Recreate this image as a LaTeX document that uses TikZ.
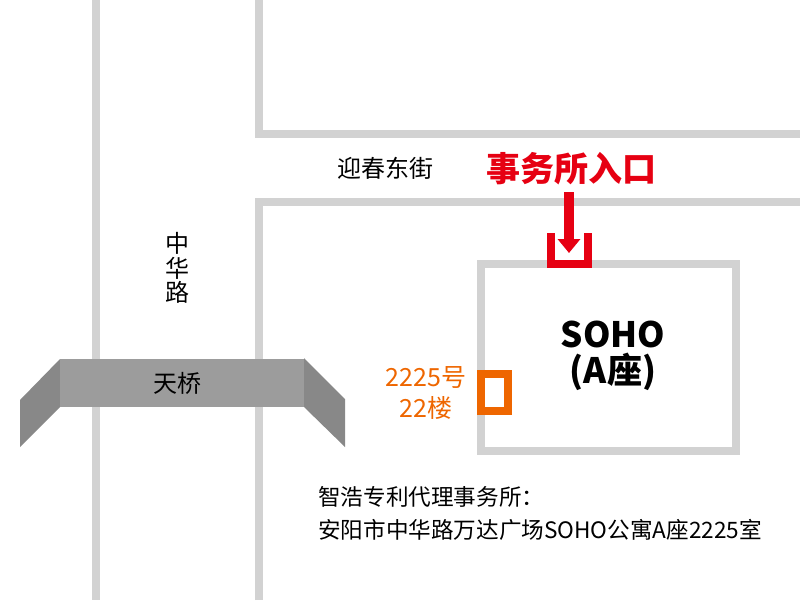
\documentclass[tikz,border=0pt]{standalone}
\usepackage{fontspec}
\setmainfont{Noto Sans CJK SC}
\usepackage{tikz}
\usetikzlibrary{arrows.meta, positioning}
\definecolor{roadGray}{HTML}{D2D2D2}
\definecolor{bridgeGray}{HTML}{9C9C9C}
\definecolor{wingGray}{HTML}{888888}
\definecolor{entryRed}{HTML}{E60012}
\definecolor{roomOrange}{HTML}{EE6600}
\tikzset{
  road/.style={draw=roadGray, line width=8pt},
  wing/.style={fill=wingGray, draw=none},
  label/.style={font=\fontsize{24}{28}\selectfont, align=center, text=black, inner sep=0pt},
}

\begin{document}
\begin{tikzpicture}[x=1pt, y=-1pt]
       \useasboundingbox (0,0) rectangle (800,600);
       % 道路
       \draw[road] (96,0) -- (96,600);
       \draw[road] (259,0) -- (259,134) -- (800,134);
       \draw[road] (259,600) -- (259,202) -- (800,202);
       
       % 大楼
       \draw[road] (481,264) rectangle (736,451);
       
       % 天桥
       \fill[wing] (60,359) -- (20,400) -- (20,447) -- (60,407) -- cycle;
       \fill[wing] (304,358) -- (345,399) -- (345,447) -- (304,407) -- cycle;
       \fill[bridgeGray] (60,359) rectangle (304,407);
       
       % 入口
       \draw[entryRed, line width=8pt] (551,233) -- (551,264) -- (588,264) -- (588,233);
       \coordinate (arrowStart) at (569,192);
       \coordinate (arrowEnd) at (569,253);
       \draw[entryRed, line width=9.5pt, -{Triangle[length=14pt, width=22pt]}] (arrowStart) -- (arrowEnd);
       
       % 事务所
       \draw[roomOrange, line width=8pt, fill=white] (481,374) rectangle (508,411);
       
       \node[label] (streetLabel) at (385,168) {迎春东街};
       \node[label, text=entryRed, font=\fontsize{34}{40}\selectfont\bfseries] (entryLabel) at (571,169) {事务所入口};
       \node[label, font=\fontsize{24}{24.5}\selectfont] (roadLabel) at (177,268) {中\\华\\路};
       \node[label] (bridgeLabel) at (177,383) {天桥};
       \node[label, font=\fontsize{35}{36}\selectfont\bfseries] (buildingLabel) at (613,356) {SOHO\\(A座)};
       \node[label, text=roomOrange, font=\fontsize{25}{31}\selectfont] (roomLabel) at (426,393) {2225号\\22楼};
       \node[label, align=left, anchor=west, font=\fontsize{22.6}{33}\selectfont] (addressLabel) at (318,513) {智浩专利代理事务所：\\安阳市中华路万达广场SOHO公寓A座2225室};
   \end{tikzpicture}
\end{document}
